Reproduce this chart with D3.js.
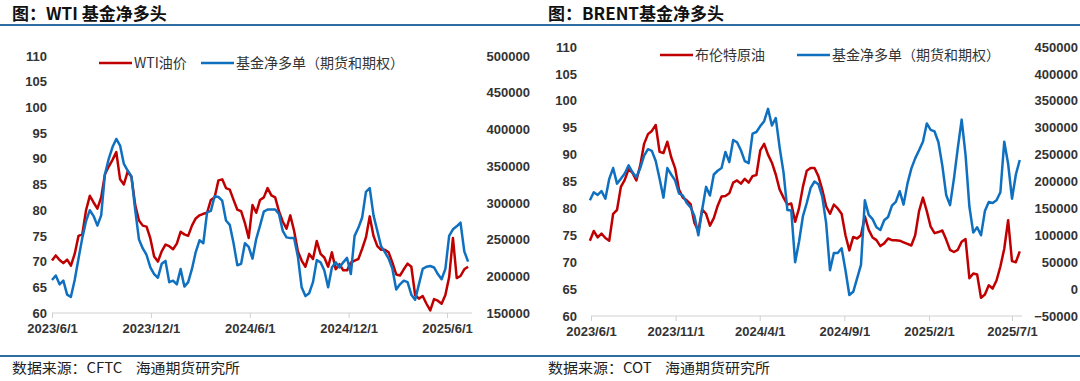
<!DOCTYPE html>
<html>
<head>
<meta charset="utf-8">
<script src="https://cdn.jsdelivr.net/npm/d3@7"></script>
<style>
  body { margin: 0; background: #fff; }
  svg { display: block; }
  .tick text { font-family: "Liberation Sans", Arial, sans-serif; font-weight: bold; font-size: 13px; fill: #333; }
  .foot { white-space: pre; }
</style>
</head>
<body>
<svg id="chart" width="1080" height="381"></svg>
<script>
// weekly data
const wtiStart = "2023-06-01";
const wtiPrice = [
  70.2, 71.2, 70.3, 69.7, 70.4, 69.2, 71.5, 75, 75.3, 80,
  82.8, 81.5, 80.3, 82.5, 87, 88.5, 89.8, 91.3, 86, 85,
  87.5, 86.5, 81, 78, 77, 76.8, 74.5, 71, 70, 72,
  73.3, 73, 72.4, 73.5, 75.8, 75.3, 75, 77, 78.4, 79,
  79.3, 79.5, 82, 82.5, 85.8, 86, 84.3, 84, 82, 80.1,
  79.8, 77.5, 74.6, 81, 79.5, 82, 82.5, 84.3,
  82.9, 82.5, 79.8, 77.8, 76.4, 79, 76, 72, 70.2, 69,
  71.5, 70.5, 74, 71.5, 70.8, 69, 71.8, 68.5, 69.5, 68.3,
  68.3, 69.8, 70.2, 70.5, 72.5, 74.7, 78.8, 75, 73, 72.3,
  72.3, 71.8, 69.8, 67.5, 67.3, 68.5, 69.6, 69, 63.5, 62.8,
  63.3, 61.8, 60.5, 62.7, 62.4, 61.8, 63.5, 67, 74.6, 66.8,
  67.2, 68.5, 69
];
const wtiNetLong = [
  195000, 201000, 189000, 194000, 175000, 172000, 195000, 224000, 252000, 275000,
  290000, 282000, 269000, 283000, 339000, 360000, 376000, 387000, 378000, 353000,
  344000, 336000, 290000, 250000, 238000, 229000, 212000, 203000, 198000, 217000,
  221000, 192000, 194000, 189000, 210000, 186000, 192000, 210000, 233000, 249000,
  245000, 287000, 289000, 309000, 308000, 303000, 276000, 270000, 245000, 215000,
  217000, 245000, 240000, 224000, 251000, 269000, 288000, 291000,
  291000, 291000, 285000, 262000, 253000, 252000, 252000, 227000, 185000, 173000,
  177000, 192000, 222000, 219000, 208000, 185000, 212000, 219000, 212000, 219000,
  225000, 203000, 255000, 266000, 280000, 315000, 320000, 283000, 262000, 241000,
  233000, 224000, 210000, 182000, 189000, 194000, 192000, 175000, 168000, 189000,
  210000, 213000, 214000, 212000, 203000, 196000, 210000, 255000, 264000, 268000,
  273000, 234000, 220000
];

const brentStart = "2023-05-30";
const brentPrice = [
  74, 75.8, 74.6, 75.3, 74.5, 74, 79, 79.7, 84, 85.3,
  87.3, 86.6, 85.2, 88, 92, 93.8, 94.4, 95.5, 90.5, 90.3,
  92.4, 89.5, 87.5, 83.5, 82, 81.5, 80.8, 77.3, 75.8, 79.8,
  79, 76.8, 78.2, 80.5, 82.2, 82.3, 82.8, 84.8, 85.2, 84.6,
  85.5, 84.8, 86, 86.2, 90.8, 92, 90, 88.5, 86.3, 83.5,
  82, 80.7, 80.9, 77.5, 80, 84, 87,
  87.5, 87.5, 86, 83.5, 80.4, 79, 80.7, 80, 79, 75,
  72.2, 74.7, 74.4, 75, 78.5, 76, 74.6, 74.1, 73, 73.5,
  74.4, 74.1, 74.1, 74, 73.7, 73.4, 73.1, 75, 79.5, 82,
  79.5, 76.6, 75.4, 75.6, 75.9, 74.2, 72.3, 71.9, 72.3, 73.8,
  74.3, 67, 67.9, 67.7, 63.4, 64, 65.7, 65.1, 66.6, 69.2,
  72.5, 77.8, 70.2, 70, 72
];
const brentNetLong = [
  165000, 180000, 175000, 182000, 168000, 205000, 225000, 196000, 205000, 215000,
  230000, 217000, 208000, 225000, 248000, 260000, 257000, 238000, 205000, 170000,
  225000, 213000, 202000, 178000, 174000, 160000, 152000, 136000, 100000, 148000,
  190000, 174000, 213000, 220000, 225000, 255000, 236000, 277000, 273000, 258000,
  238000, 234000, 289000, 292000, 303000, 312000, 335000, 304000, 318000, 263000,
  217000, 147000, 146000, 50000, 88000, 135000, 160000,
  188000, 200000, 195000, 172000, 123000, 35000, 67000, 67000, 76000, 35000,
  -11000, -5000, 20000, 45000, 165000, 138000, 130000, 115000, 110000, 128000,
  134000, 155000, 162000, 182000, 157000, 196000, 224000, 243000, 258000, 274000,
  308000, 296000, 293000, 273000, 230000, 175000, 156000, 205000, 262000, 315000,
  250000, 153000, 105000, 115000, 100000, 145000, 162000, 160000, 165000, 180000,
  274000, 233000, 168000, 213000, 240000
];

const wtiXTicks = ["2023/6/1", "2023/12/1", "2024/6/1", "2024/12/1", "2025/6/1"];
const brentXTicks = ["2023/6/1", "2023/11/1", "2024/4/1", "2024/9/1", "2025/2/1", "2025/7/1"];
const priceTicks = [60, 65, 70, 75, 80, 85, 90, 95, 100, 105, 110];
const wtiNetTicks = [150000, 200000, 250000, 300000, 350000, 400000, 450000, 500000];
const brentNetTicks = [-50000, 0, 50000, 100000, 150000, 200000, 250000, 300000, 350000, 400000, 450000];

const RED = "#c00000", BLUE = "#0f70c0";
const parse = d3.timeParse("%Y/%m/%d");
const parseIso = d3.timeParse("%Y-%m-%d");

const svg = d3.select("#chart");

// header / footer rules
svg.append("line").attr("x1", 0).attr("x2", 1080).attr("y1", 25).attr("y2", 25)
  .attr("stroke", "#2e6da4").attr("stroke-width", 2);
svg.append("line").attr("x1", 0).attr("x2", 1080).attr("y1", 356).attr("y2", 356)
  .attr("stroke", "#2e6da4").attr("stroke-width", 2);

function weekly(start, arr) {
  const t0 = parseIso(start);
  return arr.map((v, i) => ({ date: d3.timeDay.offset(t0, 7 * i), v: v }));
}

function panel(cfg) {
  const g = svg.append("g");

  g.append("text").attr("x", cfg.titleX).attr("y", 20)
    .attr("font-family", "Noto Sans CJK SC").attr("font-weight", "bold")
    .attr("font-size", 17).attr("fill", "#111").text(cfg.title);

  g.append("text").attr("class", "foot").attr("x", cfg.titleX).attr("y", 373)
    .attr("font-family", "Noto Sans CJK SC").attr("font-size", 14).attr("fill", "#222")
    .attr("textLength", cfg.footW).attr("lengthAdjust", "spacingAndGlyphs")
    .text(cfg.footer);

  const x = d3.scaleTime().domain(cfg.xDomain.map(parse)).range(cfg.xRange);
  const yL = d3.scaleLinear().domain([60, 110]).range([cfg.bottom, cfg.top]);
  const yR = d3.scaleLinear().domain(cfg.rDomain).range([cfg.bottom, cfg.top]);

  // x axis
  const xa = g.append("g").attr("transform", `translate(0,${cfg.bottom})`)
    .call(d3.axisBottom(x).tickValues(cfg.xTicks.map(parse))
      .tickFormat((d, i) => cfg.xTicks[i]).tickSize(5).tickSizeOuter(0));
  xa.select(".domain").attr("stroke", "#d0d0d0").attr("d", `M${cfg.xRange[0]},0H${cfg.axisEnd}`);
  xa.selectAll(".tick line").attr("stroke", "#d0d0d0");
  xa.selectAll(".tick text").attr("dy", "0.9em");

  const ya = g.append("g").attr("transform", `translate(${cfg.leftLab},0)`)
    .call(d3.axisLeft(yL).tickValues(priceTicks).tickSize(0).tickPadding(0));
  ya.select(".domain").remove();

  const yb = g.append("g").attr("transform", `translate(${cfg.rightLab},0)`)
    .call(d3.axisLeft(yR).tickValues(cfg.rTicks).tickFormat(d3.format("d")).tickSize(0).tickPadding(0));
  yb.select(".domain").remove();

  const price = weekly(cfg.start, cfg.price);
  const net = weekly(cfg.start, cfg.net);

  g.append("path").datum(price)
    .attr("fill", "none").attr("stroke", RED).attr("stroke-width", 2.5)
    .attr("stroke-linejoin", "round")
    .attr("d", d3.line().x(d => x(d.date)).y(d => yL(d.v)));
  g.append("path").datum(net)
    .attr("fill", "none").attr("stroke", BLUE).attr("stroke-width", 2.5)
    .attr("stroke-linejoin", "round")
    .attr("d", d3.line().x(d => x(d.date)).y(d => yR(d.v)));

  // legend
  cfg.legend.forEach(l => {
    g.append("line").attr("x1", l.x).attr("x2", l.x + 33).attr("y1", cfg.legY).attr("y2", cfg.legY)
      .attr("stroke", l.c).attr("stroke-width", 2.5);
    g.append("text").attr("x", l.x + 35).attr("y", cfg.legY + 5)
      .attr("font-family", "Noto Sans CJK SC").attr("font-size", 14).attr("fill", "#333")
      .text(l.t);
  });
}

panel({
  title: "图：WTI 基金净多头", titleX: 12,
  footer: "数据来源：CFTC    海通期货研究所", footW: 228,
  xDomain: ["2023/6/1", "2025/6/1"], xRange: [52, 447], axisEnd: 472,
  xTicks: wtiXTicks, top: 56, bottom: 313,
  rDomain: [150000, 500000], rTicks: wtiNetTicks,
  leftLab: 47, rightLab: 530,
  start: wtiStart, price: wtiPrice, net: wtiNetLong,
  legY: 63,
  legend: [{ x: 99, c: RED, t: "WTI油价" }, { x: 201, c: BLUE, t: "基金净多单（期货和期权）" }]
});

panel({
  title: "图：BRENT基金净多头", titleX: 548,
  footer: "数据来源：COT    海通期货研究所", footW: 222,
  xDomain: ["2023/6/1", "2025/7/1"], xRange: [591, 1012], axisEnd: 1022,
  xTicks: brentXTicks, top: 47, bottom: 316,
  rDomain: [-50000, 450000], rTicks: brentNetTicks,
  leftLab: 577, rightLab: 1078,
  start: brentStart, price: brentPrice, net: brentNetLong,
  legY: 55,
  legend: [{ x: 660, c: RED, t: "布伦特原油" }, { x: 797, c: BLUE, t: "基金净多单（期货和期权）" }]
});
</script>
</body>
</html>
